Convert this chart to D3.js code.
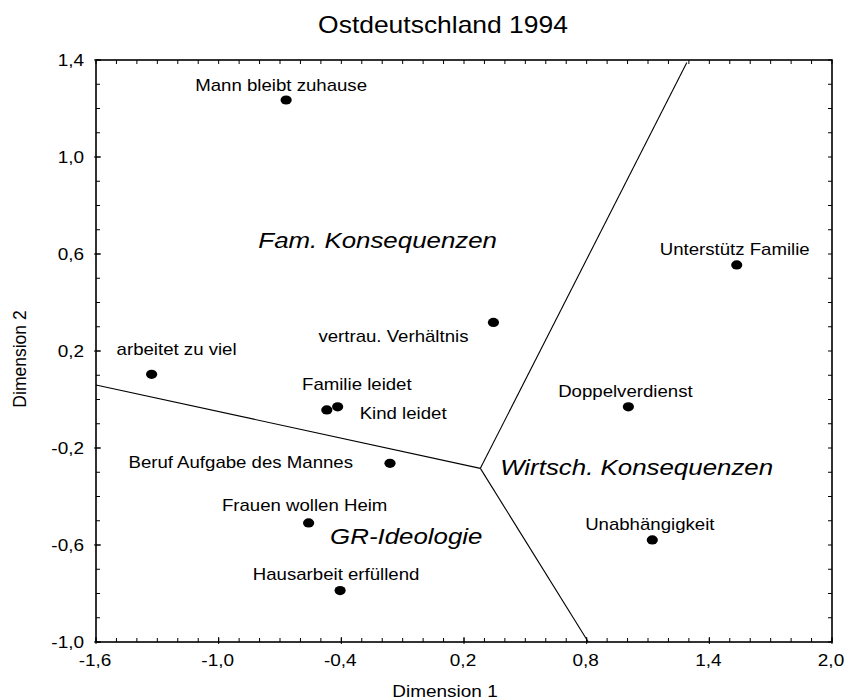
<!DOCTYPE html>
<html>
<head>
<meta charset="utf-8">
<script src="https://cdn.jsdelivr.net/npm/d3@7"></script>
<style>
  body { margin: 0; background: #fff; }
  text { font-family: "Liberation Sans", Arial, sans-serif; fill: #000; }
</style>
</head>
<body>
<svg id="chart" width="847" height="700"></svg>
<script>
// correspondence analysis map, Ostdeutschland 1994

var items = ["Mann bleibt zuhause", "arbeitet zu viel", "vertrau. Verhältnis",
             "Familie leidet", "Kind leidet", "Beruf Aufgabe des Mannes",
             "Frauen wollen Heim", "Hausarbeit erfüllend", "Unabhängigkeit",
             "Unterstütz Familie", "Doppelverdienst"];
var dim1 = [-0.670, -1.328, 0.344, -0.471, -0.418, -0.162, -0.560, -0.406, 1.121, 1.534, 1.004];
var dim2 = [1.235, 0.104, 0.318, -0.043, -0.030, -0.263, -0.509, -0.788, -0.579, 0.555, -0.030];

// region names and where they sit (data units)
var regions = ["Fam. Konsequenzen", "Wirtsch. Konsequenzen", "GR-Ideologie"];
var regionX = [-0.806, 0.377, -0.455];
var regionY = [0.624, -0.311, -0.597];

// boundary lines: one junction, three ends
var junction = [0.28, -0.284];
var boundaryEnds = [[-1.6, 0.06], [1.29, 1.39], [0.808, -1.0]];

var xTicks = [-1.6, -1.0, -0.4, 0.2, 0.8, 1.4, 2.0];
var yTicks = [-1.0, -0.6, -0.2, 0.2, 0.6, 1.0, 1.4];

// label placement relative to each dot (pixels)
var labelPos = [
  ["middle", -5, -9], ["start", -35, -19], ["end", -25, 20],
  ["middle", 30, -20], ["start", 22, 12], ["end", -37, 5],
  ["middle", -4, -11.5], ["middle", -4, -11], ["middle", -2.5, -10],
  ["middle", -2, -10], ["middle", -3, -10]
];

var svg = d3.select("#chart");
var plotLeft = 96, plotRight = 832, plotTop = 60, plotBottom = 642;
var stretch = 1.15; // glyphs in the original are a bit wide

var x = d3.scaleLinear().domain([-1.6, 2.0]).range([plotLeft, plotRight]);
var y = d3.scaleLinear().domain([-1.0, 1.4]).range([plotBottom, plotTop]);

var loc = d3.formatLocale({decimal: ",", thousands: ".", grouping: [3],
                           currency: ["", "€"], minus: "-"});
var fmt = loc.format(".1f");

function addText(g, px, py, str, size, anchor, italic) {
  return g.append("text")
      .attr("transform", "translate(" + px + "," + py + ") scale(" + stretch + ",1)")
      .attr("text-anchor", anchor || "start")
      .style("font-size", size + "px")
      .style("font-style", italic ? "italic" : "normal")
      .text(str);
}

// frame
svg.append("rect")
    .attr("x", plotLeft).attr("y", plotTop)
    .attr("width", plotRight - plotLeft).attr("height", plotBottom - plotTop)
    .attr("fill", "none").attr("stroke", "#000").attr("stroke-width", 1.6);

// minor ticks on all four sides, pointing inward
var xMinor = d3.range(-16, 21).map(function(i) { return i / 10; });
var yMinor = d3.range(-10, 15).map(function(i) { return i / 10; });
var ticks = svg.append("g").attr("stroke", "#000").attr("stroke-width", 1);

ticks.selectAll("line.xb").data(xMinor).enter().append("line")
    .attr("x1", function(d) { return x(d); }).attr("x2", function(d) { return x(d); })
    .attr("y1", plotBottom).attr("y2", plotBottom - 4);
ticks.selectAll("line.xt").data(xMinor).enter().append("line")
    .attr("x1", function(d) { return x(d); }).attr("x2", function(d) { return x(d); })
    .attr("y1", plotTop).attr("y2", plotTop + 4);
ticks.selectAll("line.yl").data(yMinor).enter().append("line")
    .attr("y1", function(d) { return y(d); }).attr("y2", function(d) { return y(d); })
    .attr("x1", plotLeft).attr("x2", plotLeft + 4);
ticks.selectAll("line.yr").data(yMinor).enter().append("line")
    .attr("y1", function(d) { return y(d); }).attr("y2", function(d) { return y(d); })
    .attr("x1", plotRight).attr("x2", plotRight - 4);

// major ticks poke out a little
ticks.selectAll("line.xm").data(xTicks).enter().append("line")
    .attr("x1", function(d) { return x(d); }).attr("x2", function(d) { return x(d); })
    .attr("y1", plotBottom + 2).attr("y2", plotBottom - 5);
ticks.selectAll("line.ym").data(yTicks).enter().append("line")
    .attr("y1", function(d) { return y(d); }).attr("y2", function(d) { return y(d); })
    .attr("x1", plotLeft - 2).attr("x2", plotLeft + 5);

// tick labels
var labels = svg.append("g");
xTicks.forEach(function(t) {
  addText(labels, x(t) - 1, plotBottom + 24, fmt(t), 16.5, "middle");
});
yTicks.forEach(function(t) {
  addText(labels, plotLeft - 12, y(t) + 6, fmt(t), 16.5, "end");
});

// axis titles and chart title
addText(svg, 445, 697, "Dimension 1", 16.5, "middle");
svg.append("text")
    .attr("transform", "translate(26,359) rotate(-90)")
    .attr("text-anchor", "middle")
    .style("font-size", "17.5px")
    .text("Dimension 2");
addText(svg, 443, 33, "Ostdeutschland 1994", 23, "middle");

// boundary lines between the regions
svg.append("g").selectAll("line")
    .data(boundaryEnds)
  .enter().append("line")
    .attr("x1", x(junction[0])).attr("y1", y(junction[1]))
    .attr("x2", function(d) { return x(d[0]); })
    .attr("y2", function(d) { return y(d[1]); })
    .attr("stroke", "#000").attr("stroke-width", 1.1);

// region names
regions.forEach(function(r, i) {
  addText(svg, x(regionX[i]), y(regionY[i]), r, 22.5, "start", true);
});

// points and their labels
var pts = svg.append("g");
pts.selectAll("ellipse")
    .data(items)
  .enter().append("ellipse")
    .attr("cx", function(d, i) { return x(dim1[i]); })
    .attr("cy", function(d, i) { return y(dim2[i]); })
    .attr("rx", 5.6).attr("ry", 4.6)
    .attr("fill", "#000");

items.forEach(function(name, i) {
  var p = labelPos[i];
  addText(pts, x(dim1[i]) + p[1], y(dim2[i]) + p[2], name, 16.2, p[0]);
});
</script>
</body>
</html>
